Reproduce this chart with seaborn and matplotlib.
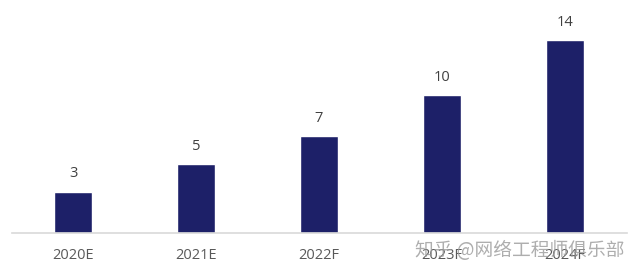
import matplotlib
matplotlib.use("Agg")
import matplotlib.pyplot as plt
import seaborn as sns
import pandas as pd

categories = ["2020E", "2021E", "2022F", "2023F", "2024F"]
values = [3, 5, 7, 10, 14]

sns.set_theme(style="white")
plt.rcParams['font.family'] = ['Open Sans', 'Noto Sans CJK SC', 'DejaVu Sans']

df = pd.DataFrame({"year": categories, "value": values})

fig = plt.figure(figsize=(6.4, 2.75), dpi=100)
ax = fig.add_axes([0.018, 0.153, 0.961, 0.847])
sns.barplot(data=df, x="year", y="value", color="#1d2068", width=0.31,
            saturation=1, ax=ax)

ax.set_xlim(-0.5, 4.5)
ax.set_ylim(0, 16.9)
for v, c in zip(values, range(len(values))):
    ax.text(c, v + 0.75, str(v), ha="center", va="bottom", fontsize=10.5,
            color="#404040")

for s in ["top", "right", "left"]:
    ax.spines[s].set_visible(False)
ax.spines["bottom"].set_color("#d9d9d9")
ax.spines["bottom"].set_linewidth(1.2)
ax.set_yticks([])
ax.set_xlabel("")
ax.set_ylabel("")
ax.tick_params(axis="x", length=0, pad=11, labelsize=10.5, labelcolor="#595959")

fig.text(0.976, 0.09, "知乎 @网络工程师俱乐部", ha="right", va="center",
         fontsize=13.5, color="#9a9a9a", alpha=0.8,
         family=['Noto Sans CJK SC', 'DejaVu Sans'])

fig.savefig("out.png", dpi=100)
